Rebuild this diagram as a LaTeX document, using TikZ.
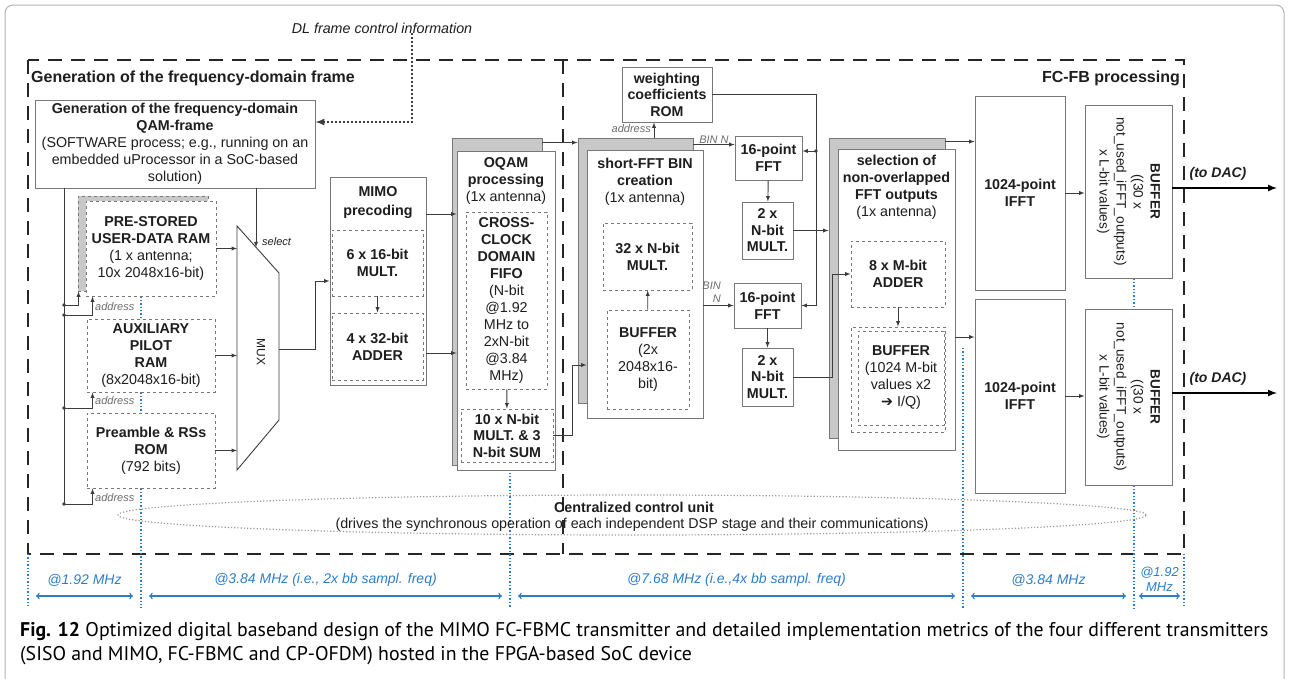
\documentclass[tikz,border=0pt]{standalone}
\usepackage{fontspec}
\setmainfont{Liberation Sans}
\newfontfamily\capfont{PT Sans}
\newfontfamily\symfont{DejaVu Sans}
\usetikzlibrary{positioning,shapes.geometric}
\pgfdeclarelayer{edgelayer}
\pgfsetlayers{edgelayer,main}
\definecolor{clkblue}{RGB}{45,125,200}
\definecolor{boxgray}{RGB}{120,120,120}
\definecolor{shadegray}{RGB}{200,200,200}
\definecolor{wiregray}{RGB}{60,60,60}
\definecolor{txtgray}{RGB}{30,30,30}
\tikzset{font=\fontsize{14.3}{17}\selectfont}
\tikzstyle{none}=[inner sep=0pt, text=txtgray]
\tikzstyle{blk}=[draw=boxgray, fill=white, inner sep=0pt, align=center, text=txtgray, line width=0.9pt]
\tikzstyle{dblk}=[blk, dashed]
\tikzstyle{shd}=[draw=boxgray, fill=shadegray, inner sep=0pt, line width=0.9pt]
\tikzstyle{line}=[draw=wiregray, line width=0.9pt]
\tikzstyle{wire}=[line, -latex]
\tikzstyle{dot}=[circle, fill=wiregray, inner sep=1.4pt]
\tikzstyle{lbl}=[inner sep=1pt, text=gray!85!black, font=\itshape\fontsize{11}{13}\selectfont]
\tikzstyle{frame}=[black!85, line width=1.8pt, dash pattern=on 14pt off 9pt]
\tikzstyle{clk}=[clkblue, dotted, line width=1.4pt]
\tikzstyle{freq}=[clkblue, line width=1.4pt, <->]
\tikzstyle{flbl}=[inner sep=1pt, text=clkblue, align=center, font=\itshape\fontsize{14}{16}\selectfont]

\begin{document}
\begin{tikzpicture}[x=1pt, y=-1pt]
	\useasboundingbox (0,0) rectangle (1289,678);
	\draw[gray!60, line width=1pt, rounded corners=8pt] (5,5) rectangle (1284,690);

	% dashed regions
	\begin{pgfonlayer}{edgelayer}
		\draw[frame] (28,60) rectangle (1184,554);
		\draw[frame] (563,60) -- (563,554);
	\end{pgfonlayer}
	\node[none, anchor=west, font=\bfseries\fontsize{16}{18}\selectfont] (ttl1) at (31,78) {Generation of the frequency-domain frame};
	\node[none, anchor=east, font=\bfseries\fontsize{16}{18}\selectfont] (ttl2) at (1180,78) {FC-FB processing};
	\node[none, font=\itshape\fontsize{14.3}{16}\selectfont] (dl) at (382,28) {DL frame control information};

	% frequency-domain frame generation
	\node[blk, minimum width=280pt, minimum height=88pt] (qam) at (175,144) {\textbf{Generation of the frequency-domain}\\\textbf{QAM-frame}\\(SOFTWARE process; e.g., running on an\\embedded uProcessor in a SoC-based\\solution)};
	\node[shd, dashed, minimum width=130pt, minimum height=95pt] (ramsh) at (143,243.5) {};
	\node[dblk, minimum width=130pt, minimum height=95pt] (ram) at (151,248.5) {\textbf{PRE-STORED}\\\textbf{USER-DATA RAM}\\(1 x antenna;\\10x 2048x16-bit)};
	\node[dblk, minimum width=128pt, minimum height=73pt] (aux) at (151,355.5) {\textbf{AUXILIARY}\\\textbf{PILOT}\\\textbf{RAM}\\(8x2048x16-bit)};
	\node[dblk, minimum width=128pt, minimum height=75pt] (pre) at (151,450.5) {\textbf{Preamble \& RSs}\\\textbf{ROM}\\(792 bits)};

	\draw[line, fill=white] (237,226) coordinate (mux1) -- (279,273) coordinate (mux2) -- (279,420) coordinate (mux3) -- (237,470) coordinate (mux4) -- cycle;
	\node[none, rotate=-90, font=\fontsize{12}{14}\selectfont] (muxt) at (261,352) {MUX};
	\coordinate (sel) at (256,247.3);
	\coordinate (muxo) at (279,349);
	\draw[wire] (qam.south -| sel) -- (sel);
	\node[lbl, anchor=west, text=txtgray] (sell) at (261,242) {select};
	\draw[wire] (ram.east) -- (ram.east -| mux1);
	\draw[wire] (aux.east) -- (aux.east -| mux1);
	\draw[wire] (pre.east) -- (pre.east -| mux1);

	% address bus
	\coordinate (j1) at (64,305);
	\coordinate (j2) at (64,315);
	\coordinate (j3) at (64,408);
	\coordinate (j4) at (64,504);
	\draw[line] (qam.south -| j1) -- (j4);
	\draw[wire] (j1) -| ([xshift=1pt]ramsh.south west);
	\draw[wire] (j2) -| ([xshift=7pt]ram.south west);
	\draw[wire] (j3) -| ([xshift=6pt]aux.south west);
	\draw[wire] (j4) -| ([xshift=6pt]pre.south west);
	\foreach \j in {1,...,4}
		\node[dot] (d\j) at (j\j) {};
	\node[lbl, anchor=west] (adr1) at (94,307) {address};
	\node[lbl, anchor=west] (adr2) at (94,401) {address};
	\node[lbl, anchor=west] (adr3) at (94,498) {address};

	% MIMO precoding
	\node[blk, minimum width=96pt, minimum height=208pt] (mimo) at (378,281) {};
	\node[none, below=10pt of mimo.north, align=center, font=\bfseries\fontsize{14.3}{19}\selectfont] (mimot) {MIMO\\precoding};
	\node[dblk, minimum width=91pt, minimum height=66pt] (mult6) at (377.5,263) {\textbf{6 x 16-bit}\\\textbf{MULT.}};
	\node[dblk, minimum width=91pt, minimum height=67pt] (add4) at (377.5,346.5) {\textbf{4 x 32-bit}\\\textbf{ADDER}};
	\draw[wire] (mult6) -- (add4);
	\draw[wire] (muxo) -- ++(36,0) |- (mimo.west);

	% OQAM processing
	\node[shd, minimum width=90pt, minimum height=327pt] (oqamsh) at (497,301.5) {};
	\node[blk, minimum width=98pt, minimum height=319pt] (oqam) at (506,310.5) {};
	\node[none, below=7pt of oqam.north, align=center] (oqamt) {\textbf{OQAM}\\\textbf{processing}\\(1x antenna)};
	\node[dblk, minimum width=81pt, minimum height=177pt] (fifo) at (506.5,300.5) {\textbf{CROSS-}\\\textbf{CLOCK}\\\textbf{DOMAIN}\\\textbf{FIFO}\\(N-bit\\@1.92\\MHz to\\2xN-bit\\@3.84\\MHz)};
	\node[dblk, minimum width=92pt, minimum height=53pt, font=\bfseries\fontsize{14.3}{16.5}\selectfont] (mult10) at (507,435.5) {10 x N-bit\\MULT. \& 3\\N-bit SUM};
	\draw[wire] (fifo) -- (mult10);
	\draw[wire] (mimo.east |- 0,214) -- (oqam.west |- 0,214);
	\draw[wire] (mimo.east |- 0,353) -- (oqam.west |- 0,353);

	% short-FFT bin creation
	\node[shd, minimum width=115pt, minimum height=265pt] (binsh) at (635.5,270.5) {};
	\node[blk, minimum width=116pt, minimum height=268pt] (bin) at (645,284) {};
	\node[none, below=8pt of bin.north, align=center] (bint) {\textbf{short-FFT BIN}\\\textbf{creation}\\(1x antenna)};
	\node[dblk, minimum width=89pt, minimum height=67pt] (mult32) at (647.5,256.5) {\textbf{32 x N-bit}\\\textbf{MULT.}};
	\node[dblk, minimum width=82pt, minimum height=99pt] (bufa) at (648,359.5) {\textbf{BUFFER}\\(2x\\2048x16-\\bit)};
	\draw[wire] (bufa) -- (mult32);
	\draw[wire] ([yshift=-5pt]oqamsh.north east) -- ([yshift=-5pt]binsh.north west);
	\draw[wire] (mult10.east) -- ++(19,0) |- (bin.west |- 0,365);

	\node[blk, minimum width=90pt, minimum height=55pt, font=\bfseries\fontsize{14.2}{16.5}\selectfont] (rom) at (667,94.5) {weighting\\coefficients\\ROM};
	\draw[wire] (binsh.north -| 654,0) -- (rom.south -| 654,0);
	\node[lbl, anchor=east] (adr4) at (652,129) {address};

	\node[blk, minimum width=67pt, minimum height=44pt] (ffta) at (768.5,158) {\textbf{16-point}\\\textbf{FFT}};
	\node[blk, minimum width=51pt, minimum height=57pt, font=\bfseries\fontsize{14.3}{16.5}\selectfont] (multa) at (767.5,230.5) {2 x\\N-bit\\MULT.};
	\node[blk, minimum width=67pt, minimum height=45pt] (fftb) at (767.5,305.5) {\textbf{16-point}\\\textbf{FFT}};
	\node[blk, minimum width=51pt, minimum height=58pt, font=\bfseries\fontsize{14.3}{16.5}\selectfont] (multb) at (767.5,377) {2 x\\N-bit\\MULT.};
	\draw[wire] (ffta) -- (multa);
	\draw[wire] (fftb) -- (multb);
	\draw[wire] ([yshift=-7pt]binsh.north east) -- ([yshift=-7pt]binsh.north east -| ffta.west);
	\node[lbl, anchor=south] (bina) at (714,145) {BIN N};
	\draw[wire] (bin.east |- fftb.west) -- (fftb.west);
	\node[lbl, align=right, anchor=south east] (binb) at (722,304) {BIN\\N};
	\coordinate (ja) at (816,151);
	\draw[line] (rom.east) -| (fftb.east -| ja);
	\draw[wire] (fftb.east -| ja) -- (fftb.east);
	\draw[wire] (ja) -- (ja -| ffta.east);
	\node[dot] (da) at (ja) {};

	% selection of non-overlapped outputs
	\node[shd, minimum width=116pt, minimum height=300pt] (selsh) at (887,288) {};
	\node[blk, minimum width=117pt, minimum height=301pt] (sel) at (896.5,299.5) {};
	\node[none, below=6pt of sel.north, align=center] (selt) {\textbf{selection of}\\\textbf{non-overlapped}\\\textbf{FFT outputs}\\(1x antenna)};
	\node[dblk, minimum width=94pt, minimum height=66pt] (add8) at (898,274) {\textbf{8 x M-bit}\\\textbf{ADDER}};
	\node[dblk, minimum width=94pt, minimum height=105pt] (bufbo) at (898,379.5) {};
	\node[dblk, minimum width=86pt, minimum height=94pt] (bufb) at (901,378) {\textbf{BUFFER}\\(1024 M-bit\\values x2\\{\symfont ➔} I/Q)};
	\draw[wire] (add8) -- (bufbo);
	\draw[wire] (multa.east) -- (multa.east -| selsh.west);
	\draw[wire] (multb.east) -- ++(39,0) |- (add8.west);

	% IFFT and output buffers
	\node[blk, minimum width=90pt, minimum height=194pt] (iffta) at (1020,193) {\textbf{1024-point}\\\textbf{IFFT}};
	\node[blk, minimum width=90pt, minimum height=194pt] (ifftb) at (1020,396) {\textbf{1024-point}\\\textbf{IFFT}};
	\draw[wire] ([yshift=-4pt]selsh.north east) -- ([yshift=-4pt]selsh.north east -| iffta.west);
	\draw[wire] ([yshift=-37.5pt]sel.east) -- ([yshift=-37.5pt]sel.east -| ifftb.west);
	\node[blk, minimum width=87pt, minimum height=173pt] (bufc) at (1128.5,191.5) {};
	\node[blk, minimum width=87pt, minimum height=176pt] (bufd) at (1128.5,397) {};
	\node[none, rotate=-90, align=center, font=\fontsize{13.6}{17}\selectfont] (bufct) at (bufc) {\textbf{BUFFER}\\((30 x\\not\_used\_iFFT\_outputs)\\x L-bit values)};
	\node[none, rotate=-90, align=center, font=\fontsize{13.6}{17}\selectfont] (bufdt) at (bufd) {\textbf{BUFFER}\\((30 x\\not\_used\_iFFT\_outputs)\\x L-bit values)};
	\draw[wire] (iffta.east) -- (iffta.east -| bufc.west);
	\draw[wire] (ifftb.east) -- (ifftb.east -| bufd.west);
	\coordinate (daca) at (1277,188);
	\coordinate (dacb) at (1277,393);
	\draw[black, line width=2pt, -latex] (bufc.east |- daca) -- (daca);
	\draw[black, line width=2pt, -latex] (bufd.east |- dacb) -- (dacb);
	\node[none, font=\bfseries\itshape\fontsize{14}{16}\selectfont] (daclA) at (1218,174) {(to DAC)};
	\node[none, font=\bfseries\itshape\fontsize{14}{16}\selectfont] (daclB) at (1218,379) {(to DAC)};

	% DL control information
	\coordinate (dlc) at (412,122);
	\draw[wiregray, line width=2pt, dotted, -latex] (dl.south -| dlc) -- (dlc) -- (dlc -| qam.east);

	% control unit
	\node[draw=gray!80, dotted, line width=1.2pt, ellipse, minimum width=1028pt, minimum height=40pt, inner sep=0pt] (ccu) at (632,515) {};
	\node[none, font=\bfseries\fontsize{14.3}{16}\selectfont] (ccut) at (634,507) {Centralized control unit};
	\node[none, font=\fontsize{14.3}{16}\selectfont] (ccus) at (632,525) {(drives the synchronous operation of each independent DSP stage and their communications)};

	% clock domains
	\coordinate (c0) at (28,596);
	\coordinate (c1) at (141,596);
	\coordinate (c2) at (510,596);
	\coordinate (c3) at (963,596);
	\coordinate (c4) at (1134,596);
	\coordinate (c5) at (1184,596);
	\begin{pgfonlayer}{edgelayer}
		\draw[clk] (28,554) -- (28,608);
		\draw[clk] (1184,554) -- (1184,608);
		\draw[clk] (ram.south -| c1) -- (aux.north -| c1);
		\draw[clk] (aux.south -| c1) -- (pre.north -| c1);
		\draw[clk] (pre.south -| c1) -- (141,608);
		\draw[clk] (mult10.south -| c2) -- (510,608);
		\draw[clk] (963,348) -- (963,608);
		\draw[clk] (bufc.south -| c4) -- (bufd.north -| c4);
		\draw[clk] (bufd.south -| c4) -- (1134,608);
	\end{pgfonlayer}
	\draw[freq] ([xshift=8pt]c0) -- node[flbl, above=8pt] (f1) {@1.92 MHz} ([xshift=-8pt]c1);
	\draw[freq] ([xshift=8pt]c1) -- node[flbl, above=8pt] (f2) {@3.84 MHz (i.e., 2x bb sampl. freq)} ([xshift=-8pt]c2);
	\draw[freq] ([xshift=8pt]c2) -- node[flbl, above=8pt] (f3) {@7.68 MHz (i.e.,4x bb sampl. freq)} ([xshift=-8pt]c3);
	\draw[freq] ([xshift=8pt]c3) -- node[flbl, above=8pt] (f4) {@3.84 MHz} ([xshift=-8pt]c4);
	\draw[freq] ([xshift=5pt]c4) -- node[flbl, above=3pt, font=\itshape\fontsize{13}{15}\selectfont] (f5) {@1.92\\MHz} ([xshift=-4pt]c5);

	% caption
	\node[none, anchor=base west, text=black, font=\capfont\fontsize{19.8}{24}\selectfont] (cap1) at (20,636) {\textbf{Fig. 12} Optimized digital baseband design of the MIMO FC-FBMC transmitter and detailed implementation metrics of the four different transmitters};
	\node[none, anchor=base west, text=black, font=\capfont\fontsize{19.8}{24}\selectfont] (cap2) at (20,660) {(SISO and MIMO, FC-FBMC and CP-OFDM) hosted in the FPGA-based SoC device};
\end{tikzpicture}
\end{document}
